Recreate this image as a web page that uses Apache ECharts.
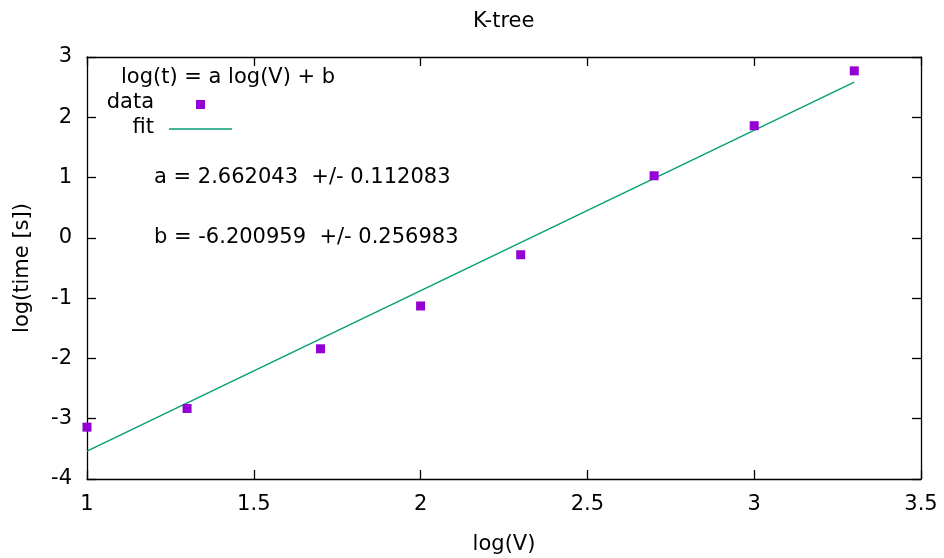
<!DOCTYPE html>
<html><head><meta charset="utf-8">
<script src="https://cdn.jsdelivr.net/npm/echarts@6/dist/echarts.min.js"></script>
<style>html,body{margin:0;padding:0;background:#fff}#c{width:944px;height:558px}</style>
</head><body><div id="c"></div>
<script>
var logV = [1.0, 1.3, 1.7, 2.0, 2.3, 2.7, 3.0, 3.3];
var logT = [-3.14, -2.83, -1.84, -1.13, -0.28, 1.03, 1.86, 2.77];
var fitX = [1.0, 3.3];
var fitY = [-3.539, 2.584];
var fitTitle = 'log(t) = a log(V) + b';
var annA = 'a = 2.662043  +/- 0.112083';
var annB = 'b = -6.200959  +/- 0.256983';

var FONT = 'DejaVu Sans';
var FS = 21;
var chart = echarts.init(document.getElementById('c'), null, {renderer: 'canvas'});
var G = {left: 87, top: 57, right: 23, bottom: 79, containLabel: false, outerBoundsMode: 'none'};
var axisCommon = {
  axisLine: {show: true, onZero: false, lineStyle: {color: '#000', width: 1.3}},
  axisTick: {show: true, inside: true, length: 9, lineStyle: {color: '#000', width: 1.3}},
  splitLine: {show: false}
};
function T(text, pos) {
  return Object.assign({type: 'text', style: {text: text, font: FS + 'px "' + FONT + '"', fill: '#000'}}, pos);
}
chart.setOption({
  animation: false,
  backgroundColor: '#fff',
  textStyle: {fontFamily: FONT},
  title: {text: 'K-tree', left: 468, top: 6,
    textStyle: {fontFamily: FONT, fontSize: FS, fontWeight: 'normal', color: '#000'}},
  grid: G,
  xAxis: [
    Object.assign({type: 'value', min: 1, max: 3.5, interval: 0.5, position: 'bottom',
      name: 'log(V)', nameLocation: 'middle', nameGap: 55,
      nameTextStyle: {fontFamily: FONT, fontSize: FS, color: '#000'},
      axisLabel: {margin: 15, fontFamily: FONT, fontSize: FS, color: '#000',
        formatter: function (v) { return String(Math.round(v * 10) / 10); }}}, axisCommon),
    Object.assign({type: 'value', min: 1, max: 3.5, interval: 0.5, position: 'top',
      axisLabel: {show: false}}, axisCommon)
  ],
  yAxis: [
    Object.assign({type: 'value', min: -4, max: 3, interval: 1, position: 'left',
      name: 'log(time [s])', nameLocation: 'middle', nameGap: 54, nameRotate: 90,
      nameTextStyle: {fontFamily: FONT, fontSize: FS, color: '#000'},
      axisLabel: {margin: 15, fontFamily: FONT, fontSize: FS, color: '#000'}}, axisCommon),
    Object.assign({type: 'value', min: -4, max: 3, interval: 1, position: 'right',
      axisLabel: {show: false}}, axisCommon)
  ],
  series: [
    {name: 'data', type: 'scatter', symbol: 'rect', symbolSize: 9,
      itemStyle: {color: '#9400D3', opacity: 1}, z: 3,
      data: logV.map(function (x, i) { return [x, logT[i]]; })},
    {name: 'fit', type: 'line', showSymbol: false, symbol: 'none',
      lineStyle: {color: '#009E73', width: 1.3}, z: 2,
      data: fitX.map(function (x, i) { return [x, fitY[i]]; })}
  ],
  graphic: [
    T(fitTitle, {left: 121, top: 67}),
    T('data', {right: 944 - 154, top: 92}),
    {type: 'rect', shape: {x: 196, y: 100, width: 9, height: 9}, style: {fill: '#9400D3'}},
    T('fit', {right: 944 - 154, top: 117}),
    {type: 'line', shape: {x1: 169, y1: 129, x2: 232, y2: 129}, style: {stroke: '#009E73', lineWidth: 1.3}},
    T(annA, {left: 154, top: 167}),
    T(annB, {left: 154, top: 227})
  ]
});
</script></body></html>
